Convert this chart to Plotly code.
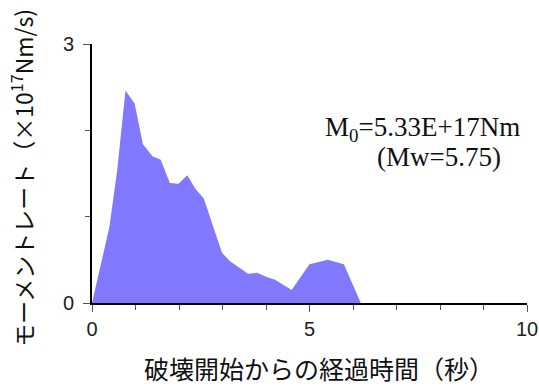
import plotly.graph_objects as go

# Time since rupture start (s) and moment rate (x10^17 Nm/s)
times = [0.0, 0.40, 0.58, 0.77, 0.98, 1.17, 1.39, 1.58, 1.79, 1.99, 2.19, 2.38, 2.57,
         2.77, 2.99, 3.18, 3.40, 3.59, 3.80, 4.01, 4.21, 4.38, 4.59, 5.00, 5.42, 5.79, 6.18]
rates = [0.0, 0.88, 1.54, 2.46, 2.31, 1.84, 1.70, 1.66, 1.39, 1.38, 1.48, 1.32, 1.21,
         0.92, 0.58, 0.48, 0.41, 0.34, 0.35, 0.30, 0.27, 0.22, 0.15, 0.45, 0.50, 0.45, 0.0]

x_ticks = [0, 5, 10]
y_ticks = [0, 3]

fig = go.Figure()
fig.add_trace(go.Scatter(
    x=times, y=rates, mode="lines", fill="tozeroy",
    line=dict(width=0, color="#8078FF"), fillcolor="#8078FF",
    hoverinfo="skip", showlegend=False,
))

tick_font = dict(family="Liberation Sans, Arial, sans-serif", size=20, color="#222")

fig.update_xaxes(
    range=[0, 10], tickvals=x_ticks, ticktext=[str(v) for v in x_ticks],
    showline=True, linecolor="black", linewidth=2,
    ticks="outside", ticklen=7, tickwidth=1, tickcolor="#555",
    minor=dict(dtick=1, ticks="outside", ticklen=5, tickcolor="#555", tickwidth=1, showgrid=False),
    showgrid=False, zeroline=False, tickfont=tick_font, automargin=False,
)
fig.update_yaxes(
    range=[0, 3], tickvals=y_ticks, ticktext=[str(v) for v in y_ticks],
    showline=True, linecolor="black", linewidth=2,
    ticks="outside", ticklen=7, tickwidth=1, tickcolor="#555", ticklabelstandoff=5,
    minor=dict(dtick=1, ticks="outside", ticklen=5, tickcolor="#555", tickwidth=1, showgrid=False),
    showgrid=False, zeroline=False, tickfont=tick_font, automargin=False,
)

# axis titles as annotations for exact placement
fig.add_annotation(
    x=0.522, y=-0.252, xref="paper", yref="paper", xanchor="center", yanchor="middle",
    text="破壊開始からの経過時間（秒）", showarrow=False,
    font=dict(family="Noto Sans CJK JP, sans-serif", size=25, color="#111"),
)
fig.add_annotation(
    x=-0.161, y=0.483, xref="paper", yref="paper", xanchor="center", yanchor="middle",
    text="モーメントレート（×10<sup>17</sup>Nm/s)", showarrow=False, textangle=-90,
    font=dict(family="Noto Sans CJK JP, sans-serif", size=23, color="#111"),
)

serif = dict(family="Liberation Serif, Times New Roman, serif", size=27, color="#111")
fig.add_annotation(
    x=0.760, y=0.672, xref="paper", yref="paper", xanchor="center", yanchor="middle",
    text="M<sub>0</sub>=5.33E+17Nm", showarrow=False, font=serif,
)
fig.add_annotation(
    x=0.798, y=0.564, xref="paper", yref="paper", xanchor="center", yanchor="middle",
    text="(Mw=5.75)", showarrow=False, font=serif,
)

fig.update_layout(
    width=539, height=387,
    margin=dict(l=92, r=12, t=44, b=84),
    plot_bgcolor="white", paper_bgcolor="white",
)

fig.write_html("out.html")
